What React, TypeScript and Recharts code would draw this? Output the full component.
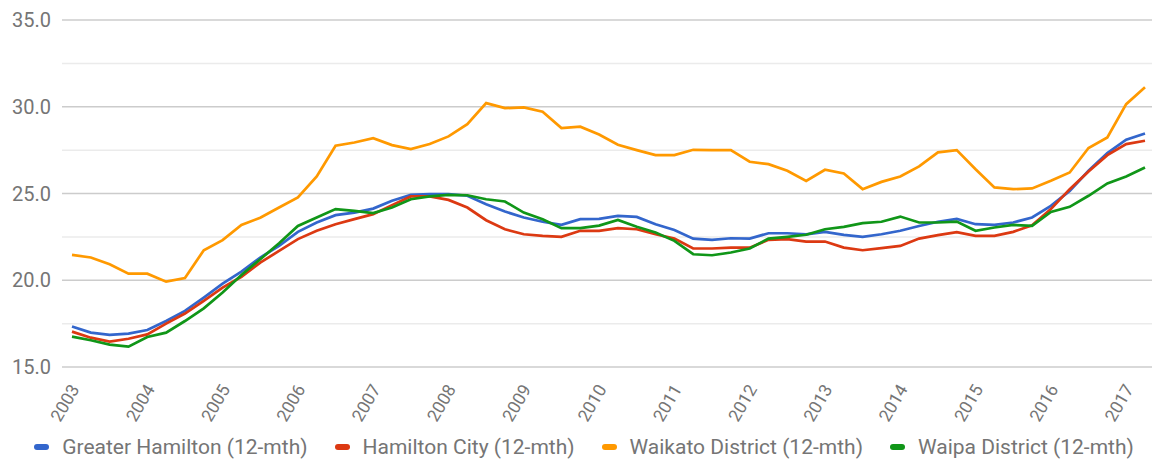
import React from "react";
import { LineChart, Line, XAxis, YAxis, ReferenceLine } from "recharts";

const quarters: string[] = [
  "2003Q1","2003Q2","2003Q3","2003Q4","2004Q1","2004Q2","2004Q3","2004Q4",
  "2005Q1","2005Q2","2005Q3","2005Q4","2006Q1","2006Q2","2006Q3","2006Q4",
  "2007Q1","2007Q2","2007Q3","2007Q4","2008Q1","2008Q2","2008Q3","2008Q4",
  "2009Q1","2009Q2","2009Q3","2009Q4","2010Q1","2010Q2","2010Q3","2010Q4",
  "2011Q1","2011Q2","2011Q3","2011Q4","2012Q1","2012Q2","2012Q3","2012Q4",
  "2013Q1","2013Q2","2013Q3","2013Q4","2014Q1","2014Q2","2014Q3","2014Q4",
  "2015Q1","2015Q2","2015Q3","2015Q4","2016Q1","2016Q2","2016Q3","2016Q4",
  "2017Q1","2017Q2",
];

const greaterHamilton: number[] = [
  17.33,16.98,16.85,16.92,17.13,17.65,18.23,19.0,19.8,20.5,21.31,21.98,22.79,23.33,23.75,23.9,
  24.13,24.58,24.92,24.96,24.96,24.87,24.38,23.96,23.62,23.37,23.19,23.52,23.54,23.71,23.65,23.23,
  22.9,22.4,22.33,22.42,22.4,22.71,22.71,22.65,22.79,22.62,22.5,22.65,22.85,23.13,23.37,23.54,
  23.23,23.19,23.33,23.62,24.29,25.15,26.31,27.33,28.1,28.46,
];
const hamiltonCity: number[] = [
  17.04,16.69,16.46,16.63,16.88,17.5,18.08,18.81,19.58,20.2,21.02,21.69,22.37,22.85,23.23,23.52,
  23.81,24.33,24.83,24.83,24.63,24.19,23.46,22.94,22.65,22.56,22.5,22.85,22.85,23.0,22.94,22.65,
  22.4,21.83,21.83,21.88,21.88,22.33,22.37,22.23,22.23,21.88,21.73,21.85,21.98,22.4,22.6,22.77,
  22.56,22.56,22.79,23.17,24.1,25.25,26.27,27.21,27.85,28.04,
];
const waikatoDistrict: number[] = [
  21.46,21.31,20.92,20.38,20.38,19.92,20.13,21.73,22.31,23.19,23.6,24.19,24.77,25.98,27.75,27.94,
  28.19,27.79,27.56,27.85,28.29,29.0,30.21,29.92,29.96,29.71,28.77,28.85,28.4,27.81,27.5,27.21,
  27.21,27.52,27.5,27.5,26.83,26.69,26.31,25.73,26.37,26.15,25.25,25.67,25.98,26.56,27.37,27.5,
  26.4,25.35,25.25,25.29,25.73,26.21,27.62,28.23,30.15,31.12,
];
const waipaDistrict: number[] = [
  16.75,16.54,16.29,16.17,16.73,16.98,17.65,18.38,19.29,20.3,21.21,22.13,23.13,23.62,24.1,24.0,
  23.87,24.19,24.67,24.83,24.92,24.9,24.67,24.54,23.9,23.52,23.0,23.0,23.15,23.48,23.08,22.75,
  22.27,21.5,21.44,21.6,21.83,22.4,22.5,22.62,22.94,23.08,23.29,23.37,23.67,23.33,23.33,23.38,
  22.85,23.04,23.19,23.13,23.94,24.23,24.87,25.58,25.98,26.5,
];

const yearTicks: number[] = [2003,2004,2005,2006,2007,2008,2009,2010,2011,2012,2013,2014,2015,2016,2017];
const majorY: number[] = [15, 20, 25, 30, 35];
const minorY: number[] = [17.5, 22.5, 27.5, 32.5];

const seriesNames = [
  "Greater Hamilton (12-mth)",
  "Hamilton City (12-mth)",
  "Waikato District (12-mth)",
  "Waipa District (12-mth)",
];
const seriesColors = ["#3366cc", "#dc3912", "#ff9900", "#109618"];
const seriesKeys = ["gh", "hc", "wk", "wp"];

const data = quarters.map((q, i) => ({
  t: parseInt(q.slice(0, 4), 10) + (parseInt(q.slice(5), 10) - 1) / 4,
  gh: greaterHamilton[i],
  hc: hamiltonCity[i],
  wk: waikatoDistrict[i],
  wp: waipaDistrict[i],
}));

const FONT = "Roboto, 'Noto Sans', sans-serif";
const GREY = "#757575";

const XTick = (props: any) => {
  const { x, y, payload } = props;
  return (
    <text
      x={x + 8}
      y={y + 14}
      textAnchor="end"
      fill={GREY}
      fontSize={17.5}
      fontFamily={FONT}
      transform={`rotate(-60, ${x + 8}, ${y + 14})`}
    >
      {payload.value}
    </text>
  );
};

export default function App() {
  return (
    <div style={{ position: "absolute", left: 0, top: 0, width: 1152, height: 459, background: "#fff" }}>
      <LineChart
        width={1152}
        height={459}
        data={data}
        margin={{ top: 20, right: 0, left: 2, bottom: 0 }}
      >
        {minorY.map((v) => (
          <ReferenceLine key={"mi" + v} y={v} stroke="#ebebeb" strokeWidth={1.5} />
        ))}
        {majorY.map((v) => (
          <ReferenceLine key={"ma" + v} y={v} stroke="#cccccc" strokeWidth={1.5} />
        ))}
        <XAxis
          dataKey="t"
          type="number"
          domain={[2003, 2017.25]}
          ticks={yearTicks}
          padding={{ left: 10, right: 7 }}
          axisLine={false}
          tickLine={false}
          height={92}
          tick={<XTick />}
          interval={0}
        />
        <YAxis
          type="number"
          domain={[15, 35]}
          ticks={majorY}
          axisLine={false}
          tickLine={false}
          width={60}
          tickMargin={5}
          tickFormatter={(v: number) => v.toFixed(1)}
          tick={{ fill: GREY, fontSize: 20, fontFamily: FONT }}
        />
        {seriesKeys.map((k, i) => (
          <Line
            key={k}
            dataKey={k}
            name={seriesNames[i]}
            stroke={seriesColors[i]}
            strokeWidth={2.7}
            dot={false}
            isAnimationActive={false}
            type="linear"
          />
        ))}
      </LineChart>
      <div
        style={{
          position: "absolute",
          left: 0,
          top: 435,
          width: 1152,
          boxSizing: "border-box",
          paddingLeft: 16,
          display: "flex",
          justifyContent: "center",
          alignItems: "center",
          fontFamily: FONT,
          fontSize: 21,
          color: GREY,
          gap: 27,
          whiteSpace: "nowrap",
        }}
      >
        {seriesNames.map((n, i) => (
          <div key={n} style={{ display: "flex", alignItems: "center" }}>
            <span
              style={{
                display: "inline-block",
                width: 15,
                height: 6,
                borderRadius: 3,
                background: seriesColors[i],
                marginRight: 13,
              }}
            />
            <span>{n}</span>
          </div>
        ))}
      </div>
    </div>
  );
}
